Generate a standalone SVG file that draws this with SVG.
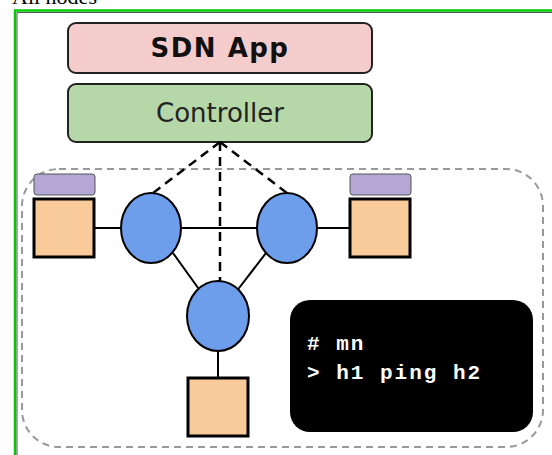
<svg xmlns="http://www.w3.org/2000/svg" width="552" height="455" viewBox="0 0 552 455">
  <style>
    .host { fill: #f9ca9a; stroke: #000; stroke-width: 3; }
    .nic { fill: #b4a7d6; stroke: #555; stroke-width: 1; }
    .switch { fill: #6d9eeb; stroke: #000; stroke-width: 2; }
    .link { stroke: #000; stroke-width: 2; fill: none; }
    .ctl { stroke: #000; stroke-width: 2.5; stroke-dasharray: 9 6; fill: none; }
    .box-label { font-family: "DejaVu Sans", Verdana, sans-serif; font-size: 26px; text-anchor: middle; }
    .term { font-family: "Liberation Mono", "DejaVu Sans Mono", monospace; font-weight: bold; font-size: 21px; fill: #fff; letter-spacing: 2px; }
  </style>
  <rect width="552" height="455" fill="#fff"/>

  <!-- caption, partly cut off at top -->
  <text x="12" y="4" font-family="Liberation Serif, serif" font-size="22" fill="#000">All nodes</text>

  <!-- frame -->
  <path d="M15 460 V10.5 H560" fill="none" stroke="#00cc00" stroke-width="2.5"/>
  <path d="M17 460 V12.5 H560" fill="none" stroke="#555" stroke-width="1"/>

  <!-- network boundary -->
  <rect id="network" x="22" y="169" width="521" height="278" rx="37" ry="37" fill="none" stroke="#999" stroke-width="2" stroke-dasharray="7 5"/>

  <g id="sdn-app">
    <rect x="68" y="23" width="304" height="50" rx="8" fill="#f4cccc" stroke="#222" stroke-width="2"/>
    <text class="box-label" x="220" y="57" font-weight="bold" letter-spacing="1.5" fill="#111">SDN App</text>
  </g>

  <g id="controller">
    <rect x="68" y="84" width="304" height="58" rx="8" fill="#b6d7a8" stroke="#222" stroke-width="2"/>
    <text class="box-label" x="220" y="122" fill="#222">Controller</text>
  </g>

  <g id="connectors">
    <line class="ctl" x1="220" y1="142" x2="153" y2="193"/>
    <line class="ctl" x1="220" y1="142" x2="287" y2="193"/>
    <line class="ctl" x1="220" y1="142" x2="220" y2="282"/>
    <line class="link" x1="95" y1="228" x2="121" y2="228"/>
    <line class="link" x1="181" y1="228" x2="257" y2="228" stroke-width="3"/>
    <line class="link" x1="317" y1="228" x2="349" y2="228"/>
    <line class="link" x1="173" y1="253" x2="201" y2="292"/>
    <line class="link" x1="266" y1="253" x2="236" y2="292"/>
    <line class="link" x1="218" y1="351" x2="218" y2="377"/>
  </g>

  <g id="h1">
    <rect class="nic" x="34" y="174" width="61" height="21" rx="3"/>
    <rect class="host" x="34" y="199" width="60" height="58"/>
  </g>
  <g id="h2">
    <rect class="nic" x="350" y="174" width="61" height="21" rx="3"/>
    <rect class="host" x="350" y="199" width="60" height="58"/>
  </g>
  <g id="h3">
    <rect class="host" x="188" y="378" width="60" height="58"/>
  </g>

  <g id="s1">
    <ellipse class="switch" cx="151" cy="228" rx="30" ry="35"/>
  </g>
  <g id="s2">
    <ellipse class="switch" cx="287" cy="228" rx="30" ry="35"/>
  </g>
  <g id="s3">
    <ellipse class="switch" cx="218" cy="316" rx="31" ry="35"/>
  </g>

  <g id="terminal">
    <rect x="290" y="300" width="243" height="132" rx="20" fill="#000"/>
    <text class="term" x="307" y="350"># mn</text>
    <text class="term" x="307" y="379">&gt; h1 ping h2</text>
  </g>
</svg>
